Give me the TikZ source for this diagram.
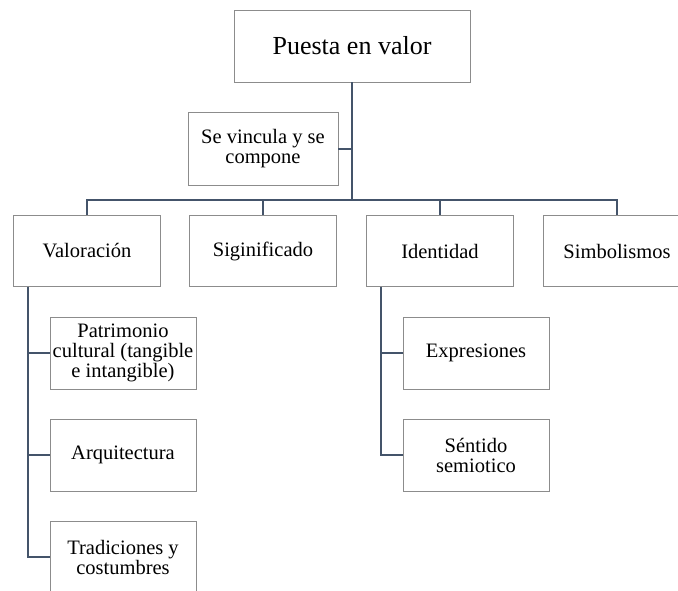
\documentclass[tikz,border=0pt]{standalone}
\usepackage{fontspec}
\setmainfont{Liberation Serif}
\definecolor{linkcol}{HTML}{44546A}
\definecolor{boxcol}{HTML}{8C8C8C}
\tikzset{
  box/.style={draw=boxcol, line width=0.9pt, fill=white, align=center,
    inner sep=2pt, font=\fontsize{20.5}{20}\selectfont},
  link/.style={draw=linkcol, line width=2pt}
}
\begin{document}
\begin{tikzpicture}[x=1pt,y=-1pt]
  \useasboundingbox (0,0) rectangle (678,590);

  % Nivel superior
  \node[box, minimum width=236pt, minimum height=72pt,
        font=\fontsize{26}{28}\selectfont] (top) at (352,46) {Puesta en valor};
  \node[box, minimum width=150pt, minimum height=73pt] (vinc) at (263,148.5)
        {Se vincula y se\\compone};
  \coordinate (bar) at (352,200);

  % Segundo nivel
  \node[box, minimum width=147pt, minimum height=71pt] (val) at (87,251) {Valoración};
  \node[box, minimum width=147pt, minimum height=71pt] (sig) at (263,251) {Siginificado};
  \node[box, minimum width=147pt, minimum height=71pt] (ide) at (440,251) {Identidad};
  \node[box, minimum width=147pt, minimum height=71pt] (sim) at (617,251) {Simbolismos};

  % Hijos de Valoracion
  \node[box, minimum width=146pt, minimum height=72pt] (pat) at (123,353)
        {Patrimonio\\cultural (tangible\\e intangible)};
  \node[box, minimum width=146pt, minimum height=72pt] (arq) at (123,455) {Arquitectura};
  \node[box, minimum width=146pt, minimum height=72pt] (tra) at (123,557)
        {Tradiciones y\\costumbres};

  % Hijos de Identidad
  \node[box, minimum width=146pt, minimum height=72pt] (exp) at (476,353) {Expresiones};
  \node[box, minimum width=146pt, minimum height=72pt] (sen) at (476,455)
        {Séntido\\semiotico};

  % Conectores
  \draw[link] (top.south) -- (bar);
  \draw[link] (vinc.east) -- (vinc.east -| bar);
  \draw[link] (bar) -| (val.north);
  \draw[link] (bar) -| (sig.north);
  \draw[link] (bar) -| (ide.north);
  \draw[link] (bar) -| (sim.north);
  \draw[link] ([xshift=15pt]val.south west) |- (pat.west);
  \draw[link] ([xshift=15pt]val.south west) |- (arq.west);
  \draw[link] ([xshift=15pt]val.south west) |- (tra.west);
  \draw[link] ([xshift=15pt]ide.south west) |- (exp.west);
  \draw[link] ([xshift=15pt]ide.south west) |- (sen.west);
\end{tikzpicture}
\end{document}
